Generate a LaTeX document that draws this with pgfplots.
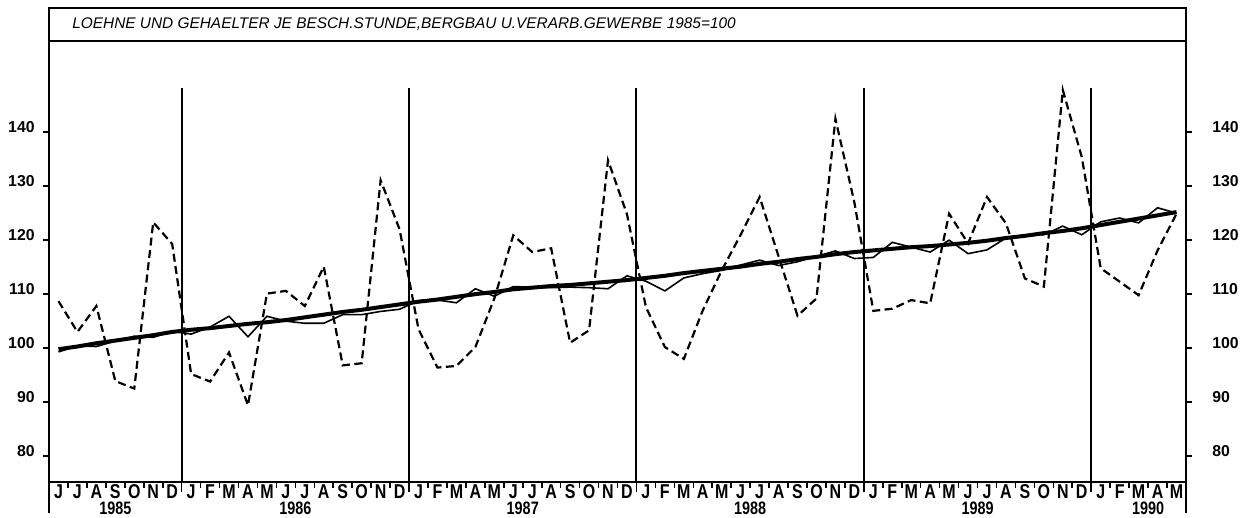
\documentclass[border=0pt]{standalone}
\usepackage{pgfplots}
\pgfplotsset{compat=1.18}
\usepackage{pgfplotstable}
\usepackage{fontspec}
\setmainfont{Liberation Sans}
\newfontfamily\condfont[FakeStretch=0.8]{Liberation Sans}
\begin{document}
\pgfplotstableread{
i raw sa trend
0 108.7 99.3 99.8
1 103.0 100.4 100.3
2 107.8 100.3 100.9
3 93.9 101.3 101.4
4 92.5 102.2 101.9
5 123.3 102.0 102.4
6 119.3 103.1 103.0
7 95.2 102.6 103.4
8 93.8 103.9 103.7
9 99.2 105.9 104.1
10 89.4 102.1 104.5
11 110.1 105.9 104.8
12 110.6 105.0 105.2
13 107.8 104.6 105.7
14 115.1 104.6 106.2
15 96.8 106.2 106.7
16 97.2 106.2 107.1
17 131.1 106.8 107.6
18 122.0 107.2 108.1
19 103.5 108.8 108.6
20 96.4 108.9 109.0
21 96.7 108.4 109.5
22 100.2 111.0 110.0
23 109.2 109.6 110.4
24 120.9 111.4 110.9
25 117.8 111.3 111.2
26 118.5 111.2 111.5
27 101.0 111.3 111.7
28 103.3 111.2 112.0
29 134.8 111.0 112.3
30 124.8 113.4 112.6
31 107.6 112.4 113.0
32 100.2 110.6 113.4
33 98.0 113.0 113.9
34 107.0 113.8 114.3
35 114.4 114.4 114.7
36 121.0 115.4 115.1
37 128.0 116.3 115.6
38 117.0 115.3 116.0
39 106.0 116.0 116.5
40 109.2 117.0 116.9
41 142.5 118.0 117.4
42 127.0 116.6 117.8
43 106.9 116.8 118.1
44 107.3 119.6 118.4
45 108.9 118.7 118.7
46 108.3 117.8 118.9
47 124.9 120.0 119.2
48 119.4 117.5 119.5
49 128.0 118.2 119.9
50 123.1 120.4 120.4
51 112.9 120.9 120.8
52 111.4 121.0 121.3
53 147.8 122.6 121.7
54 135.4 121.0 122.2
55 114.8 123.4 122.8
56 112.3 124.1 123.4
57 109.8 123.2 124.0
58 118.1 126.0 124.6
59 124.9 125.0 125.2
}\datatable
\begin{tikzpicture}
\useasboundingbox (0,0) rectangle (625pt,259pt);
\begin{axis}[
  at={(24.5pt,18pt)}, anchor=south west,
  scale only axis, width=568.5pt, height=220.5pt,
  xmin=-0.5, xmax=59.5, ymin=75.2, ymax=156.9,
  clip=false,
  axis line style={line width=0.9pt, black},
  tick style={line width=0.8pt, black},
  tick align=outside,
  major tick length=3pt,
  ytick={80,90,...,140},
  yticklabels={80,90,100,110,120,130,140},
  ytick pos=both,
  yticklabel pos=left,
  /pgf/number format/assume math mode=true,
  yticklabel style={anchor=base east, inner sep=0pt, xshift=-4pt,
     font=\fontsize{7.9}{8}\selectfont\bfseries},
  xtick={-0.5,0.5,...,59.5},
  xticklabels={},
  xtick pos=left,
  extra x ticks={0,1,...,59},
  extra x tick labels={J,J,A,S,O,N,D,J,F,M,A,M,J,J,A,S,O,N,D,J,F,M,A,M,J,J,A,S,O,N,D,J,F,M,A,M,J,J,A,S,O,N,D,J,F,M,A,M,J,J,A,S,O,N,D,J,F,M,A,M},
  extra x tick style={major tick length=0pt,
     xticklabel style={anchor=north, inner sep=0pt, yshift=-1.25pt,
       font=\condfont\fontsize{10}{10}\selectfont\bfseries}},
]
\addplot[black, line width=1.1pt, dash pattern=on 4pt off 2.2pt] table[x=i, y=raw] {\datatable};
\addplot[black, line width=0.8pt] table[x=i, y=sa] {\datatable};
\addplot[black, line width=2pt] table[x=i, y=trend] {\datatable};
% year separators
\pgfplotsinvokeforeach{6.5,18.5,30.5,42.5,54.5}{
  \draw[line width=1pt] (axis cs:#1,75.2) -- (axis cs:#1,148.1);
  \draw[line width=0.8pt] (axis cs:#1,75.2) -- ([yshift=-5pt]axis cs:#1,75.2);
}
% frame extensions and title box
\draw[line width=0.9pt] (rel axis cs:0,0) -- ([yshift=-15.5pt]rel axis cs:0,0);
\draw[line width=0.9pt] (rel axis cs:1,0) -- ([yshift=-15.5pt]rel axis cs:1,0);
\draw[line width=0.9pt] ([yshift=16.5pt]rel axis cs:0,1) rectangle (rel axis cs:1,1);
\node[anchor=west, inner sep=0pt, font=\fontsize{7.7}{8}\selectfont\itshape]
  at ([xshift=11.5pt,yshift=8.5pt]rel axis cs:0,1)
  {LOEHNE UND GEHAELTER JE BESCH.STUNDE,BERGBAU U.VERARB.GEWERBE 1985=100};
% right tick labels
\pgfplotsinvokeforeach{80,90,...,140}{
  \node[anchor=base west, inner sep=0pt, font=\fontsize{7.9}{8}\selectfont\bfseries]
    at ([xshift=13pt]axis cs:59.5,#1) {#1};
}
% year labels
\node[anchor=north, inner sep=0pt, font=\condfont\fontsize{9}{9}\selectfont\bfseries] at ([yshift=-9.8pt]axis cs:3,75.2) {1985};
\node[anchor=north, inner sep=0pt, font=\condfont\fontsize{9}{9}\selectfont\bfseries] at ([yshift=-9.8pt]axis cs:12.5,75.2) {1986};
\node[anchor=north, inner sep=0pt, font=\condfont\fontsize{9}{9}\selectfont\bfseries] at ([yshift=-9.8pt]axis cs:24.5,75.2) {1987};
\node[anchor=north, inner sep=0pt, font=\condfont\fontsize{9}{9}\selectfont\bfseries] at ([yshift=-9.8pt]axis cs:36.5,75.2) {1988};
\node[anchor=north, inner sep=0pt, font=\condfont\fontsize{9}{9}\selectfont\bfseries] at ([yshift=-9.8pt]axis cs:48.5,75.2) {1989};
\node[anchor=north, inner sep=0pt, font=\condfont\fontsize{9}{9}\selectfont\bfseries] at ([yshift=-9.8pt]axis cs:57.5,75.2) {1990};
\end{axis}
\end{tikzpicture}
\end{document}
